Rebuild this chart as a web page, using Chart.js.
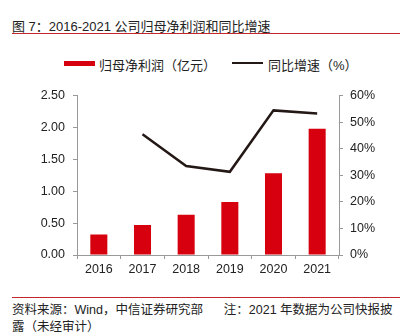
<!DOCTYPE html>
<html>
<head>
<meta charset="utf-8">
<script src="https://cdn.jsdelivr.net/npm/chart.js@4"></script>
<style>
  body { margin: 0; width: 400px; height: 332px; background: #fff; overflow: hidden; position: relative;
         font-family: "Liberation Sans", Arial, "Noto Sans CJK SC", sans-serif; color: #222; }
  #title { position: absolute; left: 12px; top: 16px; font-size: 13px; white-space: nowrap; }
  #topline { position: absolute; left: 12px; top: 33px; width: 388px; height: 1px; background: #c0282d; }
  #legend { position: absolute; top: 55px; left: 0; width: 400px; font-size: 13px; white-space: nowrap; }
  .lg { position: absolute; top: 0; }
  .sw { position: absolute; }
  #wrap { position: absolute; left: 0; top: 80px; width: 400px; height: 205px; }
  #botline { position: absolute; left: 12px; top: 297px; width: 388px; height: 1px; background: #c0282d; }
  #foot { position: absolute; left: 12px; top: 302px; width: 392px; font-size: 12.5px; line-height: 17px; }
</style>
</head>
<body>
<div id="title">图 7：2016-2021 公司归母净利润和同比增速</div>
<div id="topline"></div>
<div id="legend">
  <div class="sw" style="left:64px;top:6px;width:31px;height:5px;background:#d7000f"></div>
  <div class="lg" style="left:99px">归母净利润（亿元）</div>
  <div class="sw" style="left:232px;top:7px;width:31px;height:2px;background:#231815"></div>
  <div class="lg" style="left:268px">同比增速（%）</div>
</div>
<div id="wrap"><canvas id="area" width="400" height="205"></canvas></div>
<div id="botline"></div>
<div id="foot">资料来源：Wind，中信证券研究部&nbsp;&nbsp;&nbsp;&nbsp;&nbsp;&nbsp;注：2021 年数据为公司快报披露（未经审计）</div>
<script>
var years = ["2016", "2017", "2018", "2019", "2020", "2021"];
var profit = [0.32, 0.47, 0.63, 0.83, 1.28, 1.98];
var growth = [null, 45.4, 33.5, 31.3, 54.4, 53.2];
var leftTicks = [0, 0.5, 1, 1.5, 2, 2.5];
var rightTicks = [0, 10, 20, 30, 40, 50, 60];

var axisColor = '#999999';
var tickFont = { family: '"Liberation Sans", Arial, sans-serif', size: 12.5 };

var ctx = document.getElementById('area').getContext('2d');
var myChart = new Chart(ctx, {
    data: {
        labels: years,
        datasets: [{
            type: 'line',
            label: '同比增速（%）',
            data: growth,
            yAxisID: 'y1',
            borderColor: '#231815',
            borderWidth: 2.5,
            pointRadius: 0,
            fill: false,
            order: 0
        }, {
            type: 'bar',
            label: '归母净利润（亿元）',
            data: profit,
            yAxisID: 'y',
            backgroundColor: '#d7000f',
            categoryPercentage: 0.39,
            barPercentage: 1,
            order: 1
        }]
    },
    options: {
        responsive: false,
        animation: false,
        events: [],
        layout: { padding: { top: 14, left: 0, right: 0, bottom: 0 } },
        plugins: { legend: { display: false }, tooltip: { enabled: false } },
        scales: {
            x: {
                grid: { offset: true, drawOnChartArea: false, color: axisColor, tickLength: 4 },
                border: { color: axisColor },
                ticks: { color: '#222', font: tickFont, padding: 3, maxRotation: 0 },
                afterFit: function (s) { s.height = 30; }
            },
            y: {
                position: 'left',
                min: 0, max: 2.5,
                afterBuildTicks: function (s) { s.ticks = leftTicks.map(function (v) { return { value: v }; }); },
                grid: { drawOnChartArea: false, color: axisColor, tickLength: 4 },
                border: { color: axisColor },
                ticks: { color: '#222', font: tickFont, padding: 8, autoSkip: false,
                         callback: function (v) { return v.toFixed(2); } },
                afterFit: function (s) { s.width = 77; }
            },
            y1: {
                position: 'right',
                min: 0, max: 60,
                afterBuildTicks: function (s) { s.ticks = rightTicks.map(function (v) { return { value: v }; }); },
                grid: { drawOnChartArea: false, color: axisColor, tickLength: 4 },
                border: { color: axisColor },
                ticks: { color: '#222', font: tickFont, padding: 7, autoSkip: false,
                         callback: function (v) { return v + '%'; } },
                afterFit: function (s) { s.width = 61; }
            }
        }
    }
});
</script>
</body>
</html>
